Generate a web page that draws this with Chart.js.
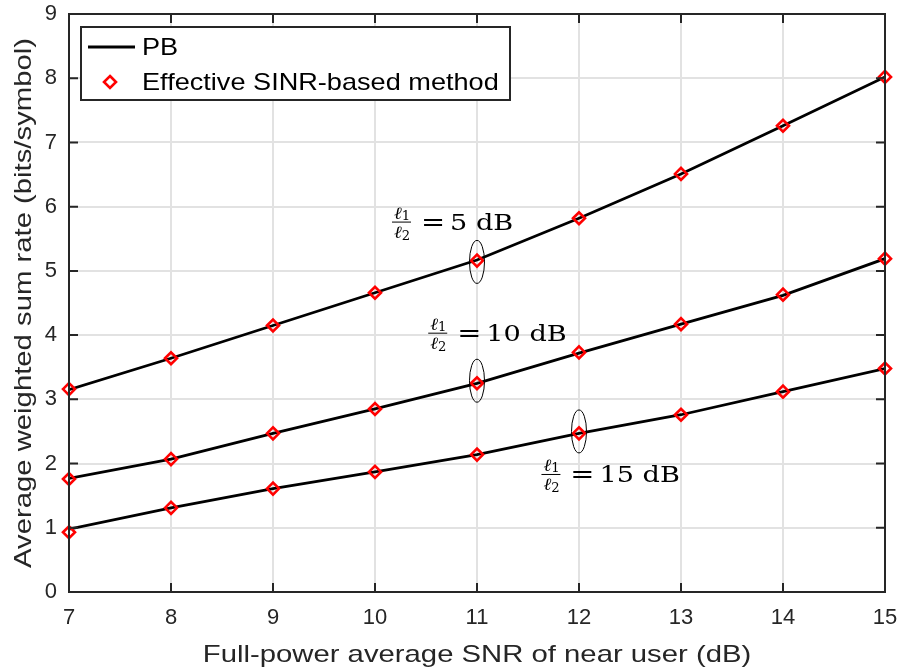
<!DOCTYPE html>
<html>
<head>
<meta charset="utf-8">
<script src="https://cdn.jsdelivr.net/npm/chart.js@4.4.1/dist/chart.umd.min.js"></script>
<style>
  html, body { margin: 0; padding: 0; background: #fff; }
  #wrap { width: 904px; height: 670px; }
</style>
</head>
<body>
<div id="wrap"><canvas id="can" width="904" height="670"></canvas></div>
<script>
// x axis: full-power average SNR of near user (dB)
var snrDb = [7, 8, 9, 10, 11, 12, 13, 14, 15];

// PB curves (black lines)
var pb5  = [3.15, 3.64, 4.15, 4.66, 5.17, 5.82, 6.51, 7.26, 8.02];
var pb10 = [1.77, 2.07, 2.47, 2.85, 3.25, 3.72, 4.17, 4.62, 5.19];
var pb15 = [0.98, 1.31, 1.61, 1.87, 2.14, 2.47, 2.76, 3.12, 3.48];

// Effective SINR-based method (red diamonds)
var sinr5  = [3.16, 3.64, 4.15, 4.66, 5.16, 5.82, 6.51, 7.26, 8.02];
var sinr10 = [1.76, 2.07, 2.47, 2.85, 3.25, 3.73, 4.17, 4.63, 5.19];
var sinr15 = [0.93, 1.31, 1.61, 1.87, 2.14, 2.47, 2.76, 3.12, 3.48];

var xTicks = [7, 8, 9, 10, 11, 12, 13, 14, 15];
var yTicks = [0, 1, 2, 3, 4, 5, 6, 7, 8, 9];

var legendLabels = ['PB', 'Effective SINR-based method'];
var xTitle = 'Full-power average SNR of near user (dB)';
var yTitle = 'Average weighted sum rate (bits/symbol)';

// ratio labels, placed in data coordinates
var ratioNotes = [
    { text: '5 dB',  x: 10.255, y: 5.76 },
    { text: '10 dB', x: 10.61,  y: 4.03 },
    { text: '15 dB', x: 11.72,  y: 1.83 }
];
// ellipses around the grouped curves
var ellipseNotes = [
    { x: 11, y: 5.14 },
    { x: 11, y: 3.29 },
    { x: 12, y: 2.50 }
];

function pts(ys) {
    var out = [];
    for (var i in snrDb) {
        out.push({ x: snrDb[i], y: ys[i] });
    }
    return out;
}

function lineSet(ys) {
    return {
        data: pts(ys),
        showLine: true,
        borderColor: '#000',
        borderWidth: 2.8,
        pointRadius: 0,
        fill: false,
        tension: 0,
        order: 2
    };
}

function markSet(ys) {
    return {
        data: pts(ys),
        showLine: false,
        borderColor: '#ff0000',
        backgroundColor: 'rgba(0,0,0,0)',
        pointStyle: 'rectRot',
        pointRadius: 6,
        pointBorderWidth: 2.6,
        clip: false,
        order: 1
    };
}

var SANS = '"Liberation Sans", Arial, Helvetica, sans-serif';
var SERIF = '"DejaVu Serif", "Liberation Serif", serif';

function stretchText(ctx, txt, x, y, sx) {
    ctx.save();
    ctx.translate(x, y);
    ctx.scale(sx, 1);
    ctx.fillText(txt, 0, 0);
    ctx.restore();
}

var decor = {
    id: 'decor',
    afterDatasetsDraw: function (chart) {
        var ctx = chart.ctx;
        var xs = chart.scales.x, ys = chart.scales.y;
        var a = chart.chartArea;

        // ellipses
        ctx.save();
        ctx.strokeStyle = '#000';
        ctx.lineWidth = 1;
        ellipseNotes.forEach(function (e) {
            ctx.beginPath();
            ctx.ellipse(xs.getPixelForValue(e.x), ys.getPixelForValue(e.y), 7.5, 21.5, 0, 0, Math.PI * 2);
            ctx.stroke();
        });
        ctx.restore();

        // frame and inward ticks
        ctx.save();
        ctx.strokeStyle = '#262626';
        ctx.lineWidth = 2;
        ctx.strokeRect(a.left, a.top, a.right - a.left, a.bottom - a.top);
        ctx.beginPath();
        xTicks.forEach(function (v) {
            var px = xs.getPixelForValue(v);
            ctx.moveTo(px, a.bottom); ctx.lineTo(px, a.bottom - 9);
            ctx.moveTo(px, a.top); ctx.lineTo(px, a.top + 9);
        });
        yTicks.forEach(function (v) {
            var py = ys.getPixelForValue(v);
            ctx.moveTo(a.left, py); ctx.lineTo(a.left + 9, py);
            ctx.moveTo(a.right, py); ctx.lineTo(a.right - 9, py);
        });
        ctx.stroke();
        ctx.restore();

        // ratio labels  l1/l2 = N dB
        ctx.save();
        ctx.fillStyle = '#000';
        ctx.strokeStyle = '#000';
        ratioNotes.forEach(function (n) {
            var cx = xs.getPixelForValue(n.x);
            var cy = ys.getPixelForValue(n.y);
            ctx.textBaseline = 'alphabetic';
            ctx.textAlign = 'center';
            ctx.font = 'italic 17px ' + SERIF;
            stretchText(ctx, '\u2113', cx - 3, cy - 3, 1.1);
            stretchText(ctx, '\u2113', cx - 3, cy + 16, 1.1);
            ctx.font = '12px ' + SERIF;
            stretchText(ctx, '1', cx + 5, cy - 2, 1.1);
            stretchText(ctx, '2', cx + 5, cy + 18, 1.1);
            ctx.lineWidth = 1;
            ctx.beginPath();
            ctx.moveTo(cx - 9, cy); ctx.lineTo(cx + 10, cy);
            ctx.stroke();
            ctx.font = '24px ' + SERIF;
            ctx.textAlign = 'center';
            stretchText(ctx, '=', cx + 32, cy + 8, 1.2);
            ctx.textAlign = 'left';
            ctx.font = '23px ' + SERIF;
            stretchText(ctx, n.text, cx + 49, cy + 8, 1.18);
        });
        ctx.restore();
    },
    afterDraw: function (chart) {
        var ctx = chart.ctx;
        var a = chart.chartArea;

        // legend box
        ctx.save();
        ctx.fillStyle = '#fff';
        ctx.fillRect(81, 27, 429, 73);
        ctx.strokeStyle = '#262626';
        ctx.lineWidth = 2;
        ctx.strokeRect(81, 27, 429, 73);
        ctx.strokeStyle = '#000';
        ctx.lineWidth = 2.8;
        ctx.beginPath();
        ctx.moveTo(88, 47); ctx.lineTo(135, 47);
        ctx.stroke();
        ctx.strokeStyle = '#ff0000';
        ctx.lineWidth = 2.6;
        ctx.beginPath();
        ctx.moveTo(110, 76); ctx.lineTo(116, 82); ctx.lineTo(110, 88); ctx.lineTo(104, 82);
        ctx.closePath();
        ctx.stroke();
        ctx.fillStyle = '#000';
        ctx.font = '24px ' + SANS;
        ctx.textBaseline = 'middle';
        ctx.textAlign = 'left';
        stretchText(ctx, legendLabels[0], 142, 48, 1.13);
        stretchText(ctx, legendLabels[1], 142, 83, 1.13);
        ctx.restore();

        // axis titles
        ctx.save();
        ctx.fillStyle = '#262626';
        ctx.font = '24px ' + SANS;
        ctx.textAlign = 'center';
        ctx.textBaseline = 'middle';
        stretchText(ctx, xTitle, (a.left + a.right) / 2, 655, 1.22);
        ctx.translate(24, (a.top + a.bottom) / 2);
        ctx.rotate(-Math.PI / 2);
        ctx.scale(1.22, 1);
        ctx.fillText(yTitle, 0, 0);
        ctx.restore();
    }
};

var ctx = document.getElementById('can').getContext('2d');

window.myChart = new Chart(ctx, {
    type: 'scatter',
    data: {
        datasets: [
            markSet(sinr5), markSet(sinr10), markSet(sinr15),
            lineSet(pb5), lineSet(pb10), lineSet(pb15)
        ]
    },
    options: {
        responsive: false,
        animation: false,
        layout: { padding: { top: 14, right: 19, left: 0, bottom: 0 } },
        plugins: {
            legend: { display: false },
            tooltip: { enabled: false }
        },
        scales: {
            x: {
                type: 'linear',
                min: 7, max: 15,
                afterFit: function (s) { s.height = 78; s.paddingLeft = 0; s.paddingRight = 0; },
                afterBuildTicks: function (s) { s.ticks = xTicks.map(function (v) { return { value: v }; }); },
                ticks: { color: '#262626', font: { family: SANS, size: 22 }, padding: 13, maxRotation: 0 },
                grid: { color: '#e2e2e2', lineWidth: 2, drawTicks: false },
                border: { display: false }
            },
            y: {
                min: 0, max: 9,
                afterFit: function (s) { s.width = 69; s.paddingTop = 0; s.paddingBottom = 0; },
                afterBuildTicks: function (s) { s.ticks = yTicks.map(function (v) { return { value: v }; }); },
                ticks: { color: '#262626', font: { family: SANS, size: 22 }, padding: 12 },
                grid: { color: '#e2e2e2', lineWidth: 2, drawTicks: false },
                border: { display: false }
            }
        }
    },
    plugins: [decor]
});
</script>
</body>
</html>
